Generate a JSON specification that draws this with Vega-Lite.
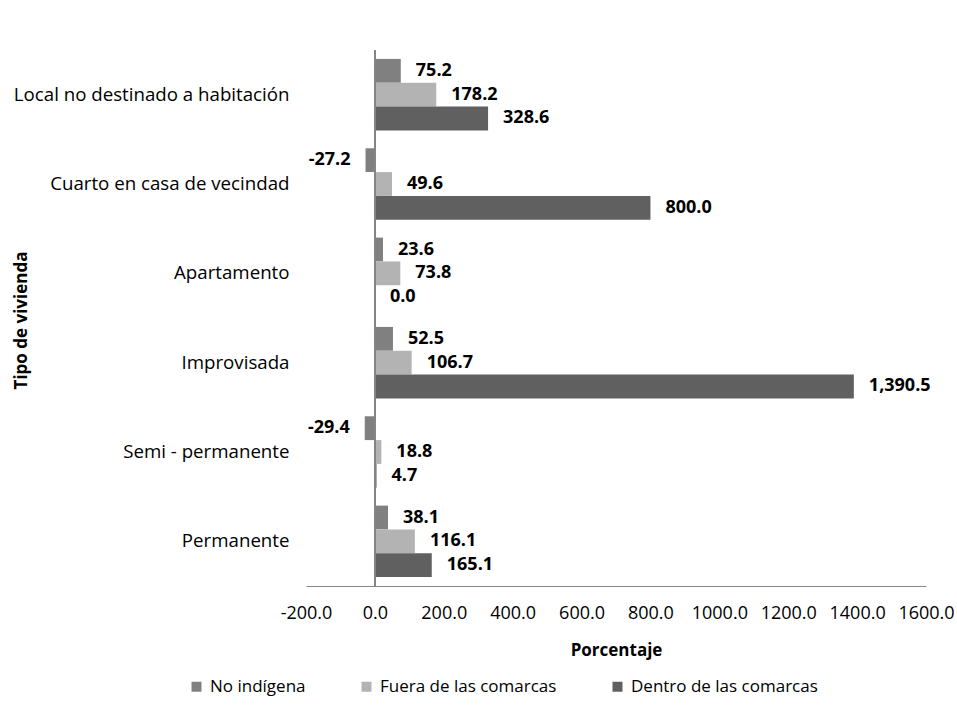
{
  "$schema": "https://vega.github.io/schema/vega-lite/v6.json",
  "width": 620,
  "height": 536,
  "autosize": {"type": "none"},
  "padding": {"left": 306, "top": 50, "right": 31, "bottom": 131},
  "background": "white",
  "config": {
    "view": {"stroke": null},
    "font": "Open Sans",
    "locale": {"number": {"decimal": ".", "thousands": ",", "grouping": [3], "currency": ["$", ""], "minus": "-"}}
  },
  "data": {
    "values": [
      {"tipo": "Local no destinado a habitación", "serie": "No indígena", "v": 75.2},
      {"tipo": "Local no destinado a habitación", "serie": "Fuera de las comarcas", "v": 178.2},
      {"tipo": "Local no destinado a habitación", "serie": "Dentro de las comarcas", "v": 328.6},
      {"tipo": "Cuarto en casa de vecindad", "serie": "No indígena", "v": -27.2},
      {"tipo": "Cuarto en casa de vecindad", "serie": "Fuera de las comarcas", "v": 49.6},
      {"tipo": "Cuarto en casa de vecindad", "serie": "Dentro de las comarcas", "v": 800.0},
      {"tipo": "Apartamento", "serie": "No indígena", "v": 23.6},
      {"tipo": "Apartamento", "serie": "Fuera de las comarcas", "v": 73.8},
      {"tipo": "Apartamento", "serie": "Dentro de las comarcas", "v": 0.0},
      {"tipo": "Improvisada", "serie": "No indígena", "v": 52.5},
      {"tipo": "Improvisada", "serie": "Fuera de las comarcas", "v": 106.7},
      {"tipo": "Improvisada", "serie": "Dentro de las comarcas", "v": 1390.5},
      {"tipo": "Semi - permanente", "serie": "No indígena", "v": -29.4},
      {"tipo": "Semi - permanente", "serie": "Fuera de las comarcas", "v": 18.8},
      {"tipo": "Semi - permanente", "serie": "Dentro de las comarcas", "v": 4.7},
      {"tipo": "Permanente", "serie": "No indígena", "v": 38.1},
      {"tipo": "Permanente", "serie": "Fuera de las comarcas", "v": 116.1},
      {"tipo": "Permanente", "serie": "Dentro de las comarcas", "v": 165.1}
    ]
  },
  "layer": [
    {
      "mark": {"type": "bar"},
      "encoding": {
        "x": {
          "field": "v", "type": "quantitative",
          "scale": {"domain": [-200, 1600], "nice": false, "zero": false},
          "axis": {
            "values": [-200, 0, 200, 400, 600, 800, 1000, 1200, 1400, 1600],
            "format": ".1f", "grid": false, "ticks": false,
            "domainColor": "#868686", "domainWidth": 1,
            "labelFontSize": 18, "labelColor": "#000000", "labelPadding": 18,
            "labelFlush": false,
            "title": "Porcentaje", "titleFontSize": 17, "titleFontWeight": "bold",
            "titleColor": "#000000", "titlePadding": 20
          }
        },
        "y": {
          "field": "tipo", "type": "nominal",
          "sort": ["Local no destinado a habitación", "Cuarto en casa de vecindad", "Apartamento", "Improvisada", "Semi - permanente", "Permanente"],
          "scale": {"paddingInner": 0.2, "paddingOuter": 0.1},
          "axis": {
            "domain": false, "ticks": false, "labelFontSize": 18.7, "labelColor": "#000000",
            "labelPadding": 17, "labelLimit": 400,
            "title": "Tipo de vivienda", "titleFontSize": 17, "titleFontWeight": "bold",
            "titleColor": "#000000", "titleX": -276, "titleY": 270, "titleAngle": -90
          }
        },
        "yOffset": {
          "field": "serie",
          "sort": ["No indígena", "Fuera de las comarcas", "Dentro de las comarcas"]
        },
        "color": {
          "field": "serie", "type": "nominal",
          "sort": ["No indígena", "Fuera de las comarcas", "Dentro de las comarcas"],
          "scale": {
            "domain": ["No indígena", "Fuera de las comarcas", "Dentro de las comarcas"],
            "range": ["#808080", "#b3b3b3", "#606060"]
          },
          "legend": {
            "orient": "none", "direction": "horizontal", "title": null,
            "legendX": -118, "legendY": 628,
            "symbolType": "square", "symbolSize": 100, "symbolStrokeWidth": 0,
            "labelFontSize": 17, "labelColor": "#000000", "labelLimit": 400,
            "columnPadding": 52, "labelOffset": 5
          }
        }
      }
    },
    {
      "mark": {"type": "rule", "color": "#868686", "strokeWidth": 1},
      "encoding": {"x": {"datum": 0}}
    },
    {
      "transform": [{"filter": "datum.v >= 0"}],
      "mark": {"type": "text", "align": "left", "dx": 15, "fontSize": 18, "fontWeight": "bold", "color": "#000000"},
      "encoding": {
        "x": {"field": "v", "type": "quantitative"},
        "y": {"field": "tipo", "type": "nominal", "sort": ["Local no destinado a habitación", "Cuarto en casa de vecindad", "Apartamento", "Improvisada", "Semi - permanente", "Permanente"]},
        "yOffset": {"field": "serie", "sort": ["No indígena", "Fuera de las comarcas", "Dentro de las comarcas"]},
        "text": {"field": "v", "type": "quantitative", "format": ",.1f"}
      }
    },
    {
      "transform": [{"filter": "datum.v < 0"}],
      "mark": {"type": "text", "align": "right", "dx": -15, "fontSize": 18, "fontWeight": "bold", "color": "#000000"},
      "encoding": {
        "x": {"field": "v", "type": "quantitative"},
        "y": {"field": "tipo", "type": "nominal", "sort": ["Local no destinado a habitación", "Cuarto en casa de vecindad", "Apartamento", "Improvisada", "Semi - permanente", "Permanente"]},
        "yOffset": {"field": "serie", "sort": ["No indígena", "Fuera de las comarcas", "Dentro de las comarcas"]},
        "text": {"field": "v", "type": "quantitative", "format": ",.1f"}
      }
    }
  ]
}
